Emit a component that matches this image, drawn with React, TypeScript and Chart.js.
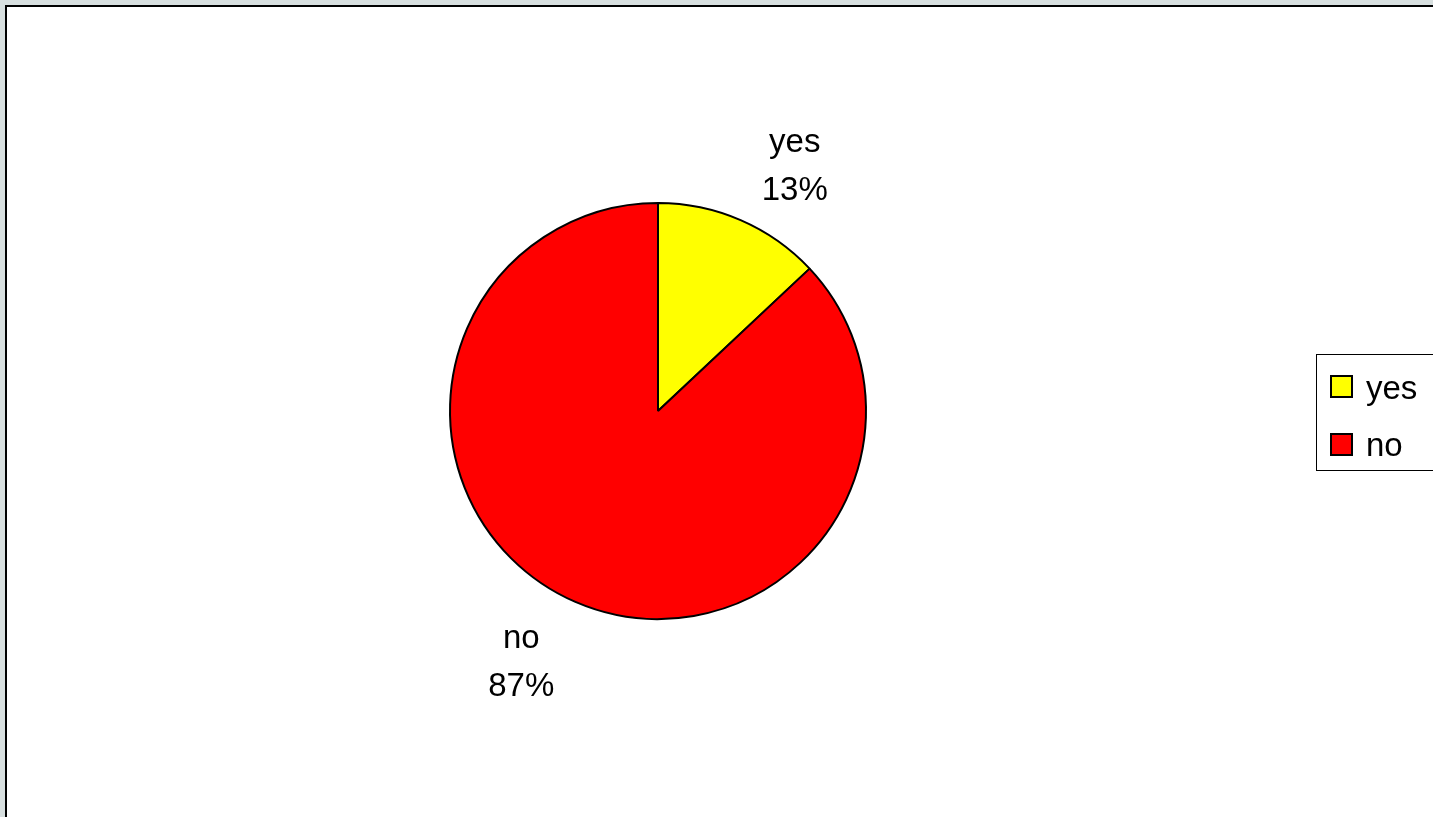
import { useEffect, useRef } from "react";
import { Chart, registerables } from "chart.js";

Chart.register(...registerables);

const categories = ["yes", "no"];
const values = [13, 87];
const colors = ["#FFFF00", "#FF0000"];

const CANVAS_W = 1426;
const CANVAS_H = 810;

export default function App() {
  const ref = useRef<HTMLCanvasElement>(null);

  useEffect(() => {
    const canvas = ref.current;
    if (!canvas) return;
    const fontFamily = '"Liberation Sans", Arial, sans-serif';
    const font = `33px ${fontFamily}`;

    const overlay = {
      id: "overlay",
      afterDatasetsDraw(chart: any) {
        const ctx = chart.ctx as CanvasRenderingContext2D;
        const meta = chart.getDatasetMeta(0);
        const total = values.reduce((a, b) => a + b, 0);
        ctx.save();
        ctx.font = font;
        ctx.fillStyle = "#000";
        ctx.textAlign = "center";
        ctx.textBaseline = "alphabetic";
        meta.data.forEach((arc: any, i: number) => {
          const p = arc.getProps(["x", "y", "startAngle", "endAngle", "outerRadius"], true);
          const mid = (p.startAngle + p.endAngle) / 2 + (5.5 * Math.PI) / 180;
          const d = p.outerRadius + 75;
          const cx = p.x + Math.cos(mid) * d;
          const cy = p.y + Math.sin(mid) * d;
          const pct = Math.round((values[i] / total) * 100) + "%";
          ctx.fillText(categories[i], cx, cy - 11);
          ctx.fillText(pct, cx, cy + 37);
        });

        // legend
        const lx = 1309;
        const ly = 347;
        const lh = 116;
        ctx.strokeStyle = "#000";
        ctx.lineWidth = 1;
        ctx.strokeRect(lx + 0.5, ly + 0.5, 300, lh);
        ctx.textAlign = "left";
        categories.forEach((c, i) => {
          const sx = lx + 14;
          const sy = ly + 21 + i * 58;
          const sq = 23;
          ctx.fillStyle = colors[i];
          ctx.fillRect(sx + 1, sy + 1, sq - 2, sq - 2);
          ctx.lineWidth = 2;
          ctx.strokeStyle = "#000";
          ctx.strokeRect(sx + 1, sy + 1, sq - 2, sq - 2);
          ctx.fillStyle = "#000";
          ctx.fillText(c, lx + 50, ly + 45 + i * 57);
        });
        ctx.restore();
      },
    };

    const chart = new Chart(canvas, {
      type: "pie",
      data: {
        labels: categories,
        datasets: [
          {
            data: values,
            backgroundColor: colors,
            borderColor: "#000",
            borderWidth: 2,
          },
        ],
      },
      options: {
        responsive: false,
        animation: false,
        layout: {
          padding: { left: 442, right: 566, top: 195, bottom: 197 },
        },
        plugins: {
          legend: { display: false },
          tooltip: { enabled: false },
        },
      },
      plugins: [overlay],
    });
    return () => chart.destroy();
  }, []);

  return (
    <div
      style={{
        position: "fixed",
        left: 0,
        top: 0,
        width: 1433,
        height: 817,
        background: "#d7dfdf",
        overflow: "hidden",
      }}
    >
      <div
        style={{
          position: "absolute",
          left: 5,
          top: 5,
          right: 0,
          bottom: 0,
          borderLeft: "2px solid #000",
          borderTop: "2px solid #000",
          background: "#fff",
        }}
      >
        <canvas
          ref={ref}
          width={CANVAS_W}
          height={CANVAS_H}
          style={{ display: "block", width: CANVAS_W, height: CANVAS_H }}
        />
      </div>
    </div>
  );
}
